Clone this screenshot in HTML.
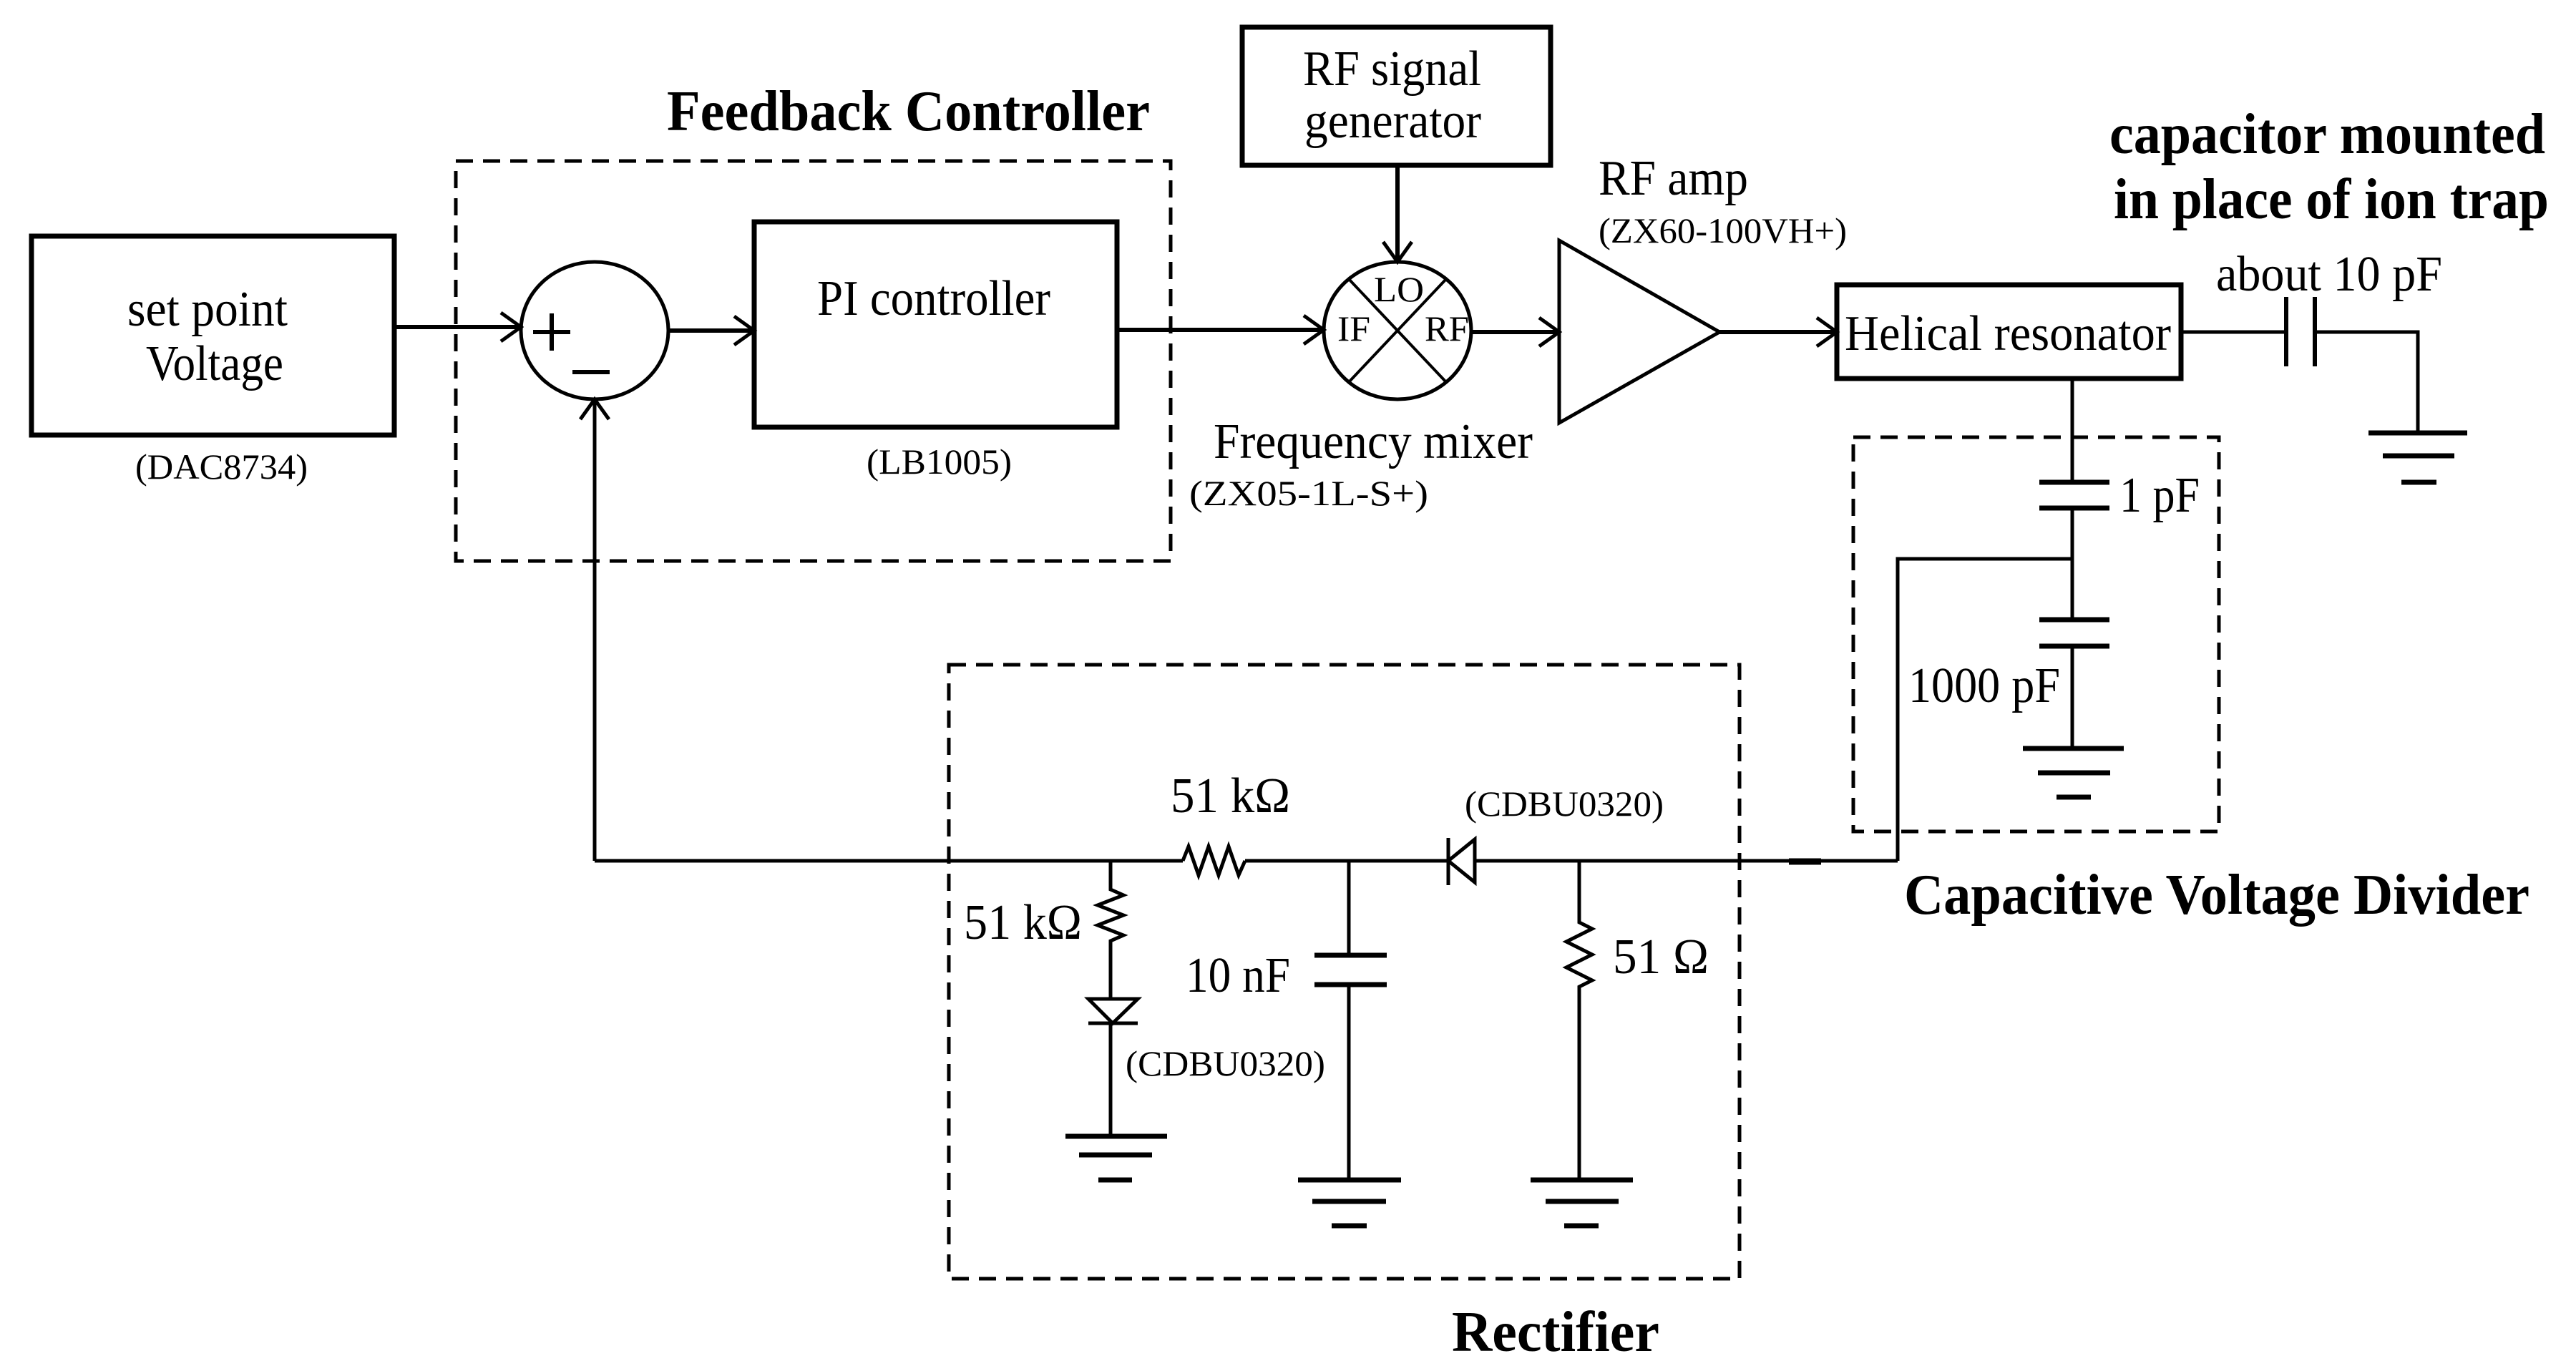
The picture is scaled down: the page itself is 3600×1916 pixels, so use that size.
<!DOCTYPE html>
<html><head><meta charset="utf-8"><style>
html,body{margin:0;padding:0;background:#fff}
svg{display:block}
text{font-family:"Liberation Serif",serif;fill:#000}
.r{font-size:70px}
.s{font-size:50px}
.b{font-size:80px;font-weight:bold}
</style></head><body>
<svg width="3600" height="1916" viewBox="0 0 3600 1916" xmlns="http://www.w3.org/2000/svg">
<g fill="none" stroke="#000" stroke-width="6">
<rect x="44" y="330" width="507" height="278" stroke-width="7"/>
<rect x="1054" y="310" width="507" height="287" stroke-width="7"/>
<rect x="1736" y="38" width="431" height="193" stroke-width="7"/>
<rect x="2567" y="398" width="481" height="131" stroke-width="7"/>
<g stroke-dasharray="24,14" stroke-width="5">
<rect x="637" y="225" width="999" height="559"/>
<rect x="1326" y="929" width="1105" height="858"/>
<rect x="2590" y="611" width="511" height="551"/>
</g>
<ellipse cx="831" cy="462" rx="103" ry="96" stroke-width="5"/>
<path d="M745 464h52M771 438v52M800 520h52" stroke-width="6"/>
<ellipse cx="1953" cy="462" rx="103" ry="96" stroke-width="5"/>
<path d="M1885 390L2021 534M2021 390L1885 534" stroke-width="4"/>
<path d="M2179 336L2403 464L2179 591Z" stroke-width="5"/>
<path d="M551 457H728M934 462H1054M1561 461H1850M1953 231V366M2056 464H2179M2403 464H2567"/>
<path d="M831 1203V558" stroke-width="5"/>
<g stroke-width="5">
<path d="M700 437L728 457L700 477"/>
<path d="M1026 442L1054 462L1026 482"/>
<path d="M1822 441L1850 461L1822 481"/>
<path d="M1933 338L1953 366L1973 338"/>
<path d="M2151 444L2179 464L2151 484"/>
<path d="M2539 444L2567 464L2539 484"/>
<path d="M811 586L831 558L851 586"/>
</g>
<path d="M3048 464H3195M3235 464H3379V605" stroke-width="5"/>
<path d="M3195 415V512M3235 415V512" stroke-width="6"/>
<path d="M3310 605H3448M3330 637H3430M3356 674H3405" stroke-width="7"/>
<path d="M2896 529V674M2896 710V866M2896 903V1046M2896 781H2652V1203" stroke-width="5"/>
<path d="M2850 674H2948M2850 710H2948M2850 866H2948M2850 903H2948" stroke-width="7"/>
<path d="M2827 1046H2968M2848 1080H2949M2874 1114H2922" stroke-width="7"/>
<path d="M831 1203H1653M1740 1203H2024M2061 1203H2652" stroke-width="5"/>
<path d="M2500 1204H2545" stroke-width="9"/>
<path d="M1653 1203l8-20l14 40l14-40l14 40l14-40l14 40l9-20" stroke-width="5"/>
<path d="M2024 1171V1237M2061 1173L2024 1203L2061 1233Z" stroke-width="5"/>
<path d="M1552 1203V1243l18 8l-36 14l36 14l-36 14l36 14l-18 8V1396M1552 1430V1588" stroke-width="5"/>
<path d="M1521 1396H1590L1555 1430ZM1521 1430H1590" stroke-width="5"/>
<path d="M1489 1588H1631M1508 1614H1610M1535 1649H1582" stroke-width="7"/>
<path d="M1885 1203V1335M1885 1376V1649" stroke-width="5"/>
<path d="M1837 1335H1938M1837 1376H1938" stroke-width="7"/>
<path d="M1814 1649H1958M1834 1679H1937M1861 1713H1910" stroke-width="7"/>
<path d="M2207 1203V1289l18 9l-36 18l36 18l-36 18l36 18l-18 9V1649" stroke-width="5"/>
<path d="M2139 1649H2282M2160 1679H2262M2186 1713H2234" stroke-width="7"/>
</g>
<text class="r" x="178" y="455" textLength="224" lengthAdjust="spacingAndGlyphs">set point</text>
<text class="r" x="204" y="531" textLength="192" lengthAdjust="spacingAndGlyphs">Voltage</text>
<text class="s" x="189" y="669" textLength="241" lengthAdjust="spacingAndGlyphs">(DAC8734)</text>
<text class="b" x="932" y="182" textLength="675" lengthAdjust="spacingAndGlyphs">Feedback Controller</text>
<text class="r" x="1142" y="440" textLength="326" lengthAdjust="spacingAndGlyphs">PI controller</text>
<text class="s" x="1211" y="662" textLength="203" lengthAdjust="spacingAndGlyphs">(LB1005)</text>
<text class="r" x="1821" y="119" textLength="249" lengthAdjust="spacingAndGlyphs">RF signal</text>
<text class="r" x="1823" y="192" textLength="247" lengthAdjust="spacingAndGlyphs">generator</text>
<text class="s" x="1920" y="421" textLength="70" lengthAdjust="spacingAndGlyphs">LO</text>
<text class="s" x="1869" y="476" textLength="46" lengthAdjust="spacingAndGlyphs">IF</text>
<text class="s" x="1991" y="476" textLength="62" lengthAdjust="spacingAndGlyphs">RF</text>
<text class="r" x="1696" y="640" textLength="446" lengthAdjust="spacingAndGlyphs">Frequency mixer</text>
<text class="s" x="1662" y="706" textLength="334" lengthAdjust="spacingAndGlyphs">(ZX05-1L-S+)</text>
<text class="r" x="2234" y="272" textLength="209" lengthAdjust="spacingAndGlyphs">RF amp</text>
<text class="s" x="2234" y="339" textLength="347" lengthAdjust="spacingAndGlyphs">(ZX60-100VH+)</text>
<text class="r" x="2578" y="489" textLength="456" lengthAdjust="spacingAndGlyphs">Helical  resonator</text>
<text class="r" x="3097" y="406" textLength="316" lengthAdjust="spacingAndGlyphs">about 10 pF</text>
<text class="b" x="2948" y="214" textLength="609" lengthAdjust="spacingAndGlyphs">capacitor mounted</text>
<text class="b" x="2954" y="305" textLength="608" lengthAdjust="spacingAndGlyphs">in place of ion trap</text>
<text class="r" x="2962" y="715" textLength="112" lengthAdjust="spacingAndGlyphs">1 pF</text>
<text class="r" x="2667" y="981" textLength="212" lengthAdjust="spacingAndGlyphs">1000 pF</text>
<text class="b" x="2661" y="1277" textLength="874" lengthAdjust="spacingAndGlyphs">Capacitive Voltage Divider</text>
<text class="r" x="1636" y="1135" textLength="167" lengthAdjust="spacingAndGlyphs">51 kΩ</text>
<text class="s" x="2047" y="1140" textLength="278" lengthAdjust="spacingAndGlyphs">(CDBU0320)</text>
<text class="r" x="1347" y="1312" textLength="165" lengthAdjust="spacingAndGlyphs">51 kΩ</text>
<text class="r" x="1657" y="1386" textLength="146" lengthAdjust="spacingAndGlyphs">10 nF</text>
<text class="r" x="2254" y="1360" textLength="134" lengthAdjust="spacingAndGlyphs">51 Ω</text>
<text class="s" x="1573" y="1503" textLength="279" lengthAdjust="spacingAndGlyphs">(CDBU0320)</text>
<text class="b" x="2029" y="1888" textLength="290" lengthAdjust="spacingAndGlyphs">Rectifier</text>
</svg>
</body></html>
